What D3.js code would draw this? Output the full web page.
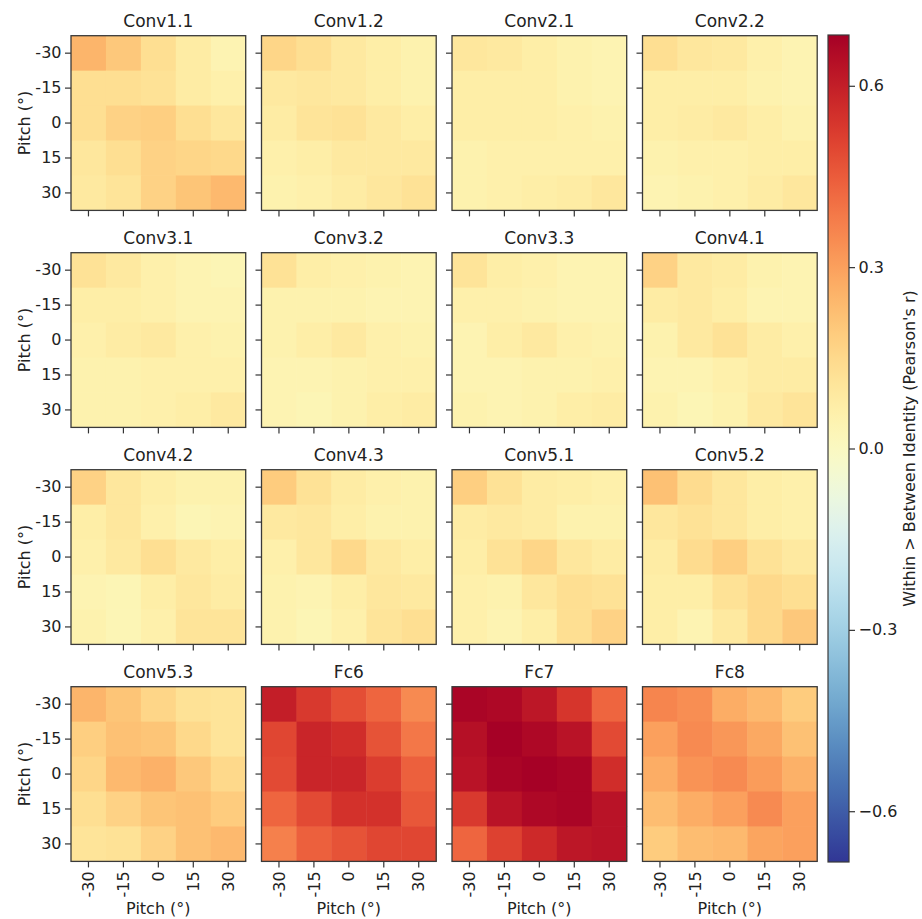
<!DOCTYPE html>
<html>
<head>
<meta charset="utf-8">
<script src="https://cdn.jsdelivr.net/npm/d3@7"></script>
<style>
  body { margin: 0; background: #fff; }
  svg text { font-family: "DejaVu Sans", sans-serif; fill: #222; }
</style>
</head>
<body>
<div id="chart"></div>
<script>
// pitch bins (rows = pitch of one image, columns = pitch of the other)
const pitch = ["-30", "-15", "0", "15", "30"];
const layerNames = ["Conv1.1", "Conv1.2", "Conv2.1", "Conv2.2",
                    "Conv3.1", "Conv3.2", "Conv3.3", "Conv4.1",
                    "Conv4.2", "Conv4.3", "Conv5.1", "Conv5.2",
                    "Conv5.3", "Fc6", "Fc7", "Fc8"];
const cbTicks = [-0.6, -0.3, 0.0, 0.3, 0.6];

const conv1_1 = [[0.25, 0.20, 0.13, 0.08, 0.04],
                 [0.13, 0.13, 0.12, 0.08, 0.06],
                 [0.13, 0.17, 0.18, 0.13, 0.10],
                 [0.10, 0.13, 0.17, 0.16, 0.15],
                 [0.09, 0.11, 0.17, 0.21, 0.24]];
const conv1_2 = [[0.16, 0.13, 0.09, 0.07, 0.05],
                 [0.09, 0.10, 0.09, 0.07, 0.05],
                 [0.08, 0.11, 0.12, 0.09, 0.07],
                 [0.06, 0.07, 0.09, 0.09, 0.09],
                 [0.05, 0.06, 0.08, 0.10, 0.12]];
const conv2_1 = [[0.10, 0.09, 0.07, 0.05, 0.04],
                 [0.07, 0.07, 0.07, 0.05, 0.04],
                 [0.07, 0.07, 0.07, 0.06, 0.05],
                 [0.05, 0.06, 0.06, 0.06, 0.06],
                 [0.05, 0.06, 0.07, 0.08, 0.10]];
const conv2_2 = [[0.13, 0.10, 0.09, 0.06, 0.04],
                 [0.07, 0.07, 0.07, 0.05, 0.04],
                 [0.07, 0.08, 0.09, 0.07, 0.05],
                 [0.05, 0.06, 0.06, 0.07, 0.07],
                 [0.04, 0.05, 0.06, 0.08, 0.10]];
const conv3_1 = [[0.12, 0.09, 0.06, 0.04, 0.03],
                 [0.07, 0.07, 0.06, 0.04, 0.04],
                 [0.06, 0.08, 0.09, 0.06, 0.05],
                 [0.05, 0.05, 0.06, 0.06, 0.06],
                 [0.05, 0.05, 0.06, 0.07, 0.09]];
const conv3_2 = [[0.12, 0.07, 0.06, 0.05, 0.04],
                 [0.05, 0.05, 0.05, 0.04, 0.04],
                 [0.05, 0.07, 0.09, 0.06, 0.05],
                 [0.04, 0.04, 0.05, 0.06, 0.06],
                 [0.04, 0.03, 0.05, 0.07, 0.08]];
const conv3_3 = [[0.11, 0.07, 0.06, 0.04, 0.04],
                 [0.06, 0.06, 0.05, 0.04, 0.04],
                 [0.04, 0.07, 0.09, 0.06, 0.05],
                 [0.04, 0.04, 0.05, 0.05, 0.06],
                 [0.05, 0.04, 0.05, 0.07, 0.08]];
const conv4_1 = [[0.17, 0.09, 0.08, 0.05, 0.04],
                 [0.08, 0.09, 0.07, 0.04, 0.04],
                 [0.05, 0.09, 0.12, 0.08, 0.06],
                 [0.04, 0.04, 0.06, 0.08, 0.08],
                 [0.05, 0.03, 0.05, 0.09, 0.11]];
const conv4_2 = [[0.17, 0.10, 0.07, 0.05, 0.05],
                 [0.07, 0.10, 0.06, 0.03, 0.04],
                 [0.06, 0.09, 0.13, 0.09, 0.07],
                 [0.04, 0.03, 0.07, 0.10, 0.08],
                 [0.05, 0.03, 0.06, 0.11, 0.11]];
const conv4_3 = [[0.19, 0.12, 0.08, 0.06, 0.05],
                 [0.09, 0.10, 0.07, 0.05, 0.05],
                 [0.06, 0.10, 0.15, 0.09, 0.07],
                 [0.05, 0.04, 0.07, 0.10, 0.09],
                 [0.05, 0.03, 0.06, 0.11, 0.13]];
const conv5_1 = [[0.18, 0.12, 0.08, 0.07, 0.06],
                 [0.08, 0.09, 0.08, 0.05, 0.05],
                 [0.07, 0.12, 0.16, 0.10, 0.08],
                 [0.06, 0.05, 0.10, 0.13, 0.12],
                 [0.06, 0.04, 0.07, 0.13, 0.17]];
const conv5_2 = [[0.22, 0.14, 0.10, 0.07, 0.06],
                 [0.10, 0.12, 0.10, 0.07, 0.06],
                 [0.08, 0.14, 0.18, 0.12, 0.09],
                 [0.07, 0.07, 0.12, 0.15, 0.13],
                 [0.07, 0.04, 0.09, 0.15, 0.20]];
const conv5_3 = [[0.25, 0.21, 0.16, 0.12, 0.11],
                 [0.18, 0.22, 0.21, 0.15, 0.11],
                 [0.16, 0.24, 0.26, 0.20, 0.15],
                 [0.13, 0.17, 0.21, 0.22, 0.19],
                 [0.11, 0.12, 0.17, 0.22, 0.24]];
const fc6 =     [[0.60, 0.53, 0.48, 0.43, 0.35],
                 [0.50, 0.58, 0.56, 0.47, 0.39],
                 [0.49, 0.58, 0.58, 0.52, 0.44],
                 [0.43, 0.49, 0.55, 0.55, 0.46],
                 [0.37, 0.44, 0.47, 0.50, 0.50]];
const fc7 =     [[0.67, 0.66, 0.62, 0.54, 0.43],
                 [0.64, 0.68, 0.66, 0.63, 0.49],
                 [0.63, 0.67, 0.68, 0.67, 0.56],
                 [0.53, 0.63, 0.66, 0.67, 0.63],
                 [0.43, 0.51, 0.57, 0.62, 0.63]];
const fc8 =     [[0.36, 0.34, 0.27, 0.24, 0.19],
                 [0.30, 0.35, 0.32, 0.28, 0.22],
                 [0.27, 0.33, 0.35, 0.31, 0.26],
                 [0.23, 0.27, 0.30, 0.35, 0.30],
                 [0.19, 0.23, 0.24, 0.29, 0.30]];

const layerValues = [conv1_1, conv1_2, conv2_1, conv2_2,
                     conv3_1, conv3_2, conv3_3, conv4_1,
                     conv4_2, conv4_3, conv5_1, conv5_2,
                     conv5_3, fc6, fc7, fc8];

const width = 922;
const height = 919;
const vmax = 0.684;

const svg = d3.select('#chart')
    .append('svg')
    .attr('width', width)
    .attr('height', height);

// RdYlBu_r
const color = d3.scaleSequential(t => d3.interpolateRdYlBu(1 - t))
    .domain([-vmax, vmax]);

const panel = { left: 71, top: 35.7, w: 174.7, h: 174.7, dx: 190.5, dy: 217 };

const x = d3.scaleBand().domain(pitch).range([0, panel.w]);
const y = d3.scaleBand().domain(pitch).range([0, panel.h]);

layerNames.forEach((name, i) => {
    const col = i % 4;
    const row = Math.floor(i / 4);
    const g = svg.append('g')
        .attr('transform', `translate(${panel.left + col * panel.dx}, ${panel.top + row * panel.dy})`);

    const cells = [];
    layerValues[i].forEach((r, ri) => r.forEach((v, ci) => cells.push({ r: pitch[ri], c: pitch[ci], v })));

    g.selectAll('rect.cell')
        .data(cells)
        .join('rect')
        .attr('class', 'cell')
        .attr('x', d => x(d.c))
        .attr('y', d => y(d.r))
        .attr('width', x.bandwidth() + 0.5)
        .attr('height', y.bandwidth() + 0.5)
        .attr('fill', d => color(d.v));

    g.append('rect')
        .attr('width', panel.w)
        .attr('height', panel.h)
        .attr('fill', 'none')
        .attr('stroke', '#3a3a3a')
        .attr('stroke-width', 1.3);

    const yAxis = g.append('g')
        .call(d3.axisLeft(y).tickSize(6).tickPadding(3.5)
            .tickFormat(col === 0 ? d => d : ''));
    const xAxis = g.append('g')
        .attr('transform', `translate(0, ${panel.h})`)
        .call(d3.axisBottom(x).tickSize(6).tickPadding(3.5)
            .tickFormat(row === 3 ? d => d : ''));

    [yAxis, xAxis].forEach(a => {
        a.select('.domain').remove();
        a.selectAll('line').attr('stroke', '#333').attr('stroke-width', 1.2);
        a.selectAll('text').style('font-size', '16px').attr('fill', '#222');
    });

    if (row === 3) {
        xAxis.selectAll('text')
            .attr('y', 0)
            .attr('x', -10)
            .attr('dy', '0.35em')
            .attr('text-anchor', 'end')
            .attr('transform', 'rotate(-90)');
        g.append('text')
            .attr('x', panel.w / 2)
            .attr('y', panel.h + 53)
            .attr('text-anchor', 'middle')
            .style('font-size', '16px')
            .text('Pitch (°)');
    }
    if (col === 0) {
        g.append('text')
            .attr('transform', 'rotate(-90)')
            .attr('x', -panel.h / 2)
            .attr('y', -41)
            .attr('text-anchor', 'middle')
            .style('font-size', '16px')
            .text('Pitch (°)');
    }

    g.append('text')
        .attr('x', panel.w / 2)
        .attr('y', -9)
        .attr('text-anchor', 'middle')
        .style('font-size', '17px')
        .text(name);
});

// colorbar
const cb = { x: 828, y: 35, w: 21, h: 827 };
const cbScale = d3.scaleLinear().domain([-vmax, vmax]).range([cb.y + cb.h, cb.y]);

const defs = svg.append('defs');
const grad = defs.append('linearGradient')
    .attr('id', 'cbgrad')
    .attr('x1', 0).attr('y1', 1).attr('x2', 0).attr('y2', 0);
grad.selectAll('stop')
    .data(d3.range(0, 1.0001, 1 / 64))
    .join('stop')
    .attr('offset', d => d)
    .attr('stop-color', d => color(-vmax + d * 2 * vmax));

svg.append('rect')
    .attr('x', cb.x)
    .attr('y', cb.y)
    .attr('width', cb.w)
    .attr('height', cb.h)
    .attr('fill', 'url(#cbgrad)')
    .attr('stroke', '#3a3a3a')
    .attr('stroke-width', 1.2);

const cbAxis = svg.append('g')
    .attr('transform', `translate(${cb.x + cb.w}, 0)`)
    .call(d3.axisRight(cbScale).tickValues(cbTicks).tickSize(6).tickPadding(3.5)
        .tickFormat(d3.format('.1f')));
cbAxis.select('.domain').remove();
cbAxis.selectAll('line').attr('stroke', '#333').attr('stroke-width', 1.2);
cbAxis.selectAll('text').style('font-size', '16px').attr('fill', '#222');

svg.append('text')
    .attr('transform', 'rotate(-90)')
    .attr('x', -(cb.y + cb.h / 2))
    .attr('y', 915)
    .attr('text-anchor', 'middle')
    .style('font-size', '16px')
    .text("Within > Between Identity (Pearson's r)");
</script>
</body>
</html>
